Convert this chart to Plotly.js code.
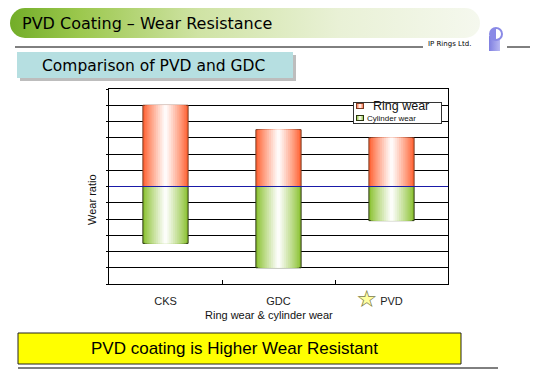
<!DOCTYPE html>
<html>
<head>
<meta charset="utf-8">
<script src="https://cdn.plot.ly/plotly-3.0.1.min.js"></script>
<style>html,body{margin:0;padding:0;background:#fff;}#chart{width:548px;height:370px;}</style>
</head>
<body>
<div id="chart"></div>
<script>
// ---- data ----
var categories = ["CKS", "GDC", "PVD"];
var tickLabels = ["CKS", "GDC", "PVD"];
var ringWear = [5, 3.5, 3];
var cylinderWear = [-3.5, -5, -2.1];
var seriesNames = ["Ring wear", "Cylinder wear"];

// ---- layout helpers (pixel -> paper) ----
var L = 109, R = 448, T = 89, B = 284;
function px(x) { return (x - L) / (R - L); }
function py(y) { return (B - y) / (B - T); }

function mix(hex, f) { // f=0 -> hex, f=1 -> white
  f = Math.min(1, Math.max(0, f));
  var r = parseInt(hex.substr(1,2),16), g = parseInt(hex.substr(3,2),16), b = parseInt(hex.substr(5,2),16);
  r = Math.round(r + (255 - r) * f); g = Math.round(g + (255 - g) * f); b = Math.round(b + (255 - b) * f);
  return "rgb(" + r + "," + g + "," + b + ")";
}

var N = 12, barW = 0.4;
var ringEdge = "#ff6435", cylEdge = "#8cc234";
var ringLine = "#7a3a20", cylLine = "#2a3510";
function layers(values, name, edge, lineColor) {
  var out = [];
  for (var i = 0; i < N; i++) {
    var t = 1 - i / N;
    out.push({
      type: "bar", x: categories, y: values, width: barW * t,
      name: name, legendgroup: name, showlegend: false, hoverinfo: "skip",
      marker: { color: i === 0 ? edge : mix(edge, Math.pow(1 - t, 0.9) * 1.05),
                line: { width: i === 0 ? 1 : 0, color: lineColor } }
    });
  }
  return out;
}

var data = [].concat(
  layers(ringWear, seriesNames[0], ringEdge, ringLine),
  layers(cylinderWear, seriesNames[1], cylEdge, cylLine)
);

function svgURI(s) { return "data:image/svg+xml;charset=utf-8," + encodeURIComponent(s); }
var pillSVG = "<svg xmlns='http://www.w3.org/2000/svg' width='470' height='30' viewBox='0 0 470 30' preserveAspectRatio='none'>" +
  "<defs><linearGradient id='g' x1='0' x2='1' y1='0' y2='0'>" +
  "<stop offset='0' stop-color='#72ad28'/><stop offset='0.15' stop-color='#9cc84e'/>" +
  "<stop offset='0.4' stop-color='#cfe3a4'/><stop offset='0.7' stop-color='#e9f1d6'/>" +
  "<stop offset='1' stop-color='#f5f8ee'/></linearGradient></defs>" +
  "<rect x='0' y='0' width='470' height='30' rx='15' ry='15' fill='url(#g)'/></svg>";
var logoSVG = "<svg xmlns='http://www.w3.org/2000/svg' width='20' height='24' viewBox='0 0 20 24'>" +
  "<defs><linearGradient id='b' x1='0' x2='1'><stop offset='0' stop-color='#7f7fe0'/><stop offset='1' stop-color='#b8b8f2'/></linearGradient></defs>" +
  "<rect x='3' y='9' width='11' height='15' fill='url(#b)'/>" +
  "<circle cx='10' cy='7' r='7' fill='#8a8ae6'/>" +
  "<path d='M10 2 A5 5 0 0 1 10 12 Z' fill='#ffffff'/></svg>";
// legend box with gradient swatches (89 x 22 px)
var legendSVG = "<svg xmlns='http://www.w3.org/2000/svg' width='89' height='22' viewBox='0 0 89 22'>" +
  "<defs>" +
  "<linearGradient id='r' x1='0' x2='1'><stop offset='0' stop-color='" + ringEdge + "'/><stop offset='0.5' stop-color='#ffffff'/><stop offset='1' stop-color='" + ringEdge + "'/></linearGradient>" +
  "<linearGradient id='c' x1='0' x2='1'><stop offset='0' stop-color='" + cylEdge + "'/><stop offset='0.5' stop-color='#ffffff'/><stop offset='1' stop-color='" + cylEdge + "'/></linearGradient>" +
  "</defs>" +
  "<rect x='0.5' y='0.5' width='88' height='21' fill='#ffffff' stroke='#333' stroke-width='1'/>" +
  "<rect x='3.5' y='1.5' width='7' height='5' fill='url(#r)' stroke='" + ringLine + "' stroke-width='1'/>" +
  "<rect x='3.5' y='13.5' width='7' height='5' fill='url(#c)' stroke='" + cylLine + "' stroke-width='1'/>" +
  "</svg>";

var ann = function (text, x, y, opts) {
  var a = { text: text, x: px(x), y: py(y), xref: "paper", yref: "paper", showarrow: false,
            xanchor: "center", yanchor: "middle", font: { family: "Liberation Sans, Arial", size: 11, color: "#111" } };
  for (var k in opts) a[k] = opts[k];
  return a;
};
function img(src, x, y, w, h, layer) {
  return { source: src, xref: "paper", yref: "paper", x: px(x), y: py(y), sizex: w / (R - L), sizey: h / (B - T),
           xanchor: "left", yanchor: "top", sizing: "stretch", layer: layer || "above" };
}
function pline(x0, y0, x1, y1, color) {
  return { type: "line", xref: "paper", yref: "paper", x0: px(x0), x1: px(x1), y0: py(y0), y1: py(y1), line: { color: color || "#000", width: 1 } };
}

var layout = {
  width: 548, height: 370,
  margin: { l: L, r: 548 - R, t: T, b: 370 - B, pad: 0 },
  paper_bgcolor: "#ffffff", plot_bgcolor: "#ffffff",
  barmode: "overlay",
  showlegend: false,
  xaxis: { type: "category", categoryorder: "array", categoryarray: categories,
           tickmode: "array", tickvals: categories, ticktext: tickLabels,
           tickson: "boundaries", ticks: "inside", ticklen: 4, tickcolor: "#000",
           showline: true, linecolor: "#000", linewidth: 1, mirror: true, showgrid: false,
           tickfont: { family: "Liberation Sans, Arial", size: 11, color: "#222" }, ticklabelstandoff: 7 },
  yaxis: { range: [-6, 6], dtick: 1, tick0: 0, showgrid: true, gridcolor: "#000", gridwidth: 1,
           zeroline: false, showline: true, linecolor: "#000", mirror: true,
           ticks: "outside", ticklen: 2, tickcolor: "#000", showticklabels: false },
  shapes: [
    { type: "line", xref: "paper", yref: "y", x0: 0, x1: 1, y0: 0, y1: 0, layer: "above", line: { color: "#1a1aa8", width: 1 } },
    pline(15, 47, 423, 47), pline(507, 47, 530, 47),
    { type: "rect", xref: "paper", yref: "paper", x0: px(20), x1: px(296), y0: py(55), y1: py(81), fillcolor: "#bdbdbd", line: { width: 0 }, layer: "below" },
    { type: "rect", xref: "paper", yref: "paper", x0: px(17), x1: px(293), y0: py(52), y1: py(78), fillcolor: "#b6dfe1", line: { width: 0 }, layer: "below" },
    { type: "rect", xref: "paper", yref: "paper", x0: px(18), x1: px(461), y0: py(333), y1: py(364), fillcolor: "#ffff00", line: { color: "#222", width: 1 } },
    pline(18, 368, 498, 368)
  ],
  images: [
    img(svgURI(pillSVG), 10, 8, 470, 30, "below"),
    img(svgURI(logoSVG), 486, 27, 20, 24, "above"),
    img(svgURI(legendSVG), 353, 102, 89, 22, "above")
  ],
  annotations: [
    ann("PVD Coating – Wear Resistance", 20, 23, { xanchor: "left", font: { family: "DejaVu Sans", size: 16, color: "#000" } }),
    ann("IP Rings Ltd.", 426, 44, { xanchor: "left", font: { family: "DejaVu Sans", size: 7, color: "#000" } }),
    ann("Comparison of PVD and GDC", 153, 66, { font: { family: "DejaVu Sans", size: 15.5, color: "#000" } }),
    ann("PVD coating is Higher Wear Resistant", 234, 348, { font: { family: "Liberation Sans, Arial", size: 17, color: "#000" } }),
    ann("Ring wear &amp; cylinder wear", 269, 315, {}),
    ann("Wear ratio", 92, 200, { textangle: -90 }),
    ann(seriesNames[0], 371, 106, { xanchor: "left", font: { family: "Liberation Sans, Arial", size: 12.5, color: "#111" } }),
    ann(seriesNames[1], 365, 118, { xanchor: "left", font: { family: "Liberation Sans, Arial", size: 8, color: "#111" } }),
    ann("★", 367, 299, { font: { family: "DejaVu Sans", size: 24, color: "#ffffa0" } }),
    ann("☆", 367, 299, { font: { family: "DejaVu Sans", size: 24, color: "#7a7a55" } })
  ]
};

Plotly.newPlot("chart", data, layout, { displayModeBar: false, staticPlot: true });
</script>
</body>
</html>
